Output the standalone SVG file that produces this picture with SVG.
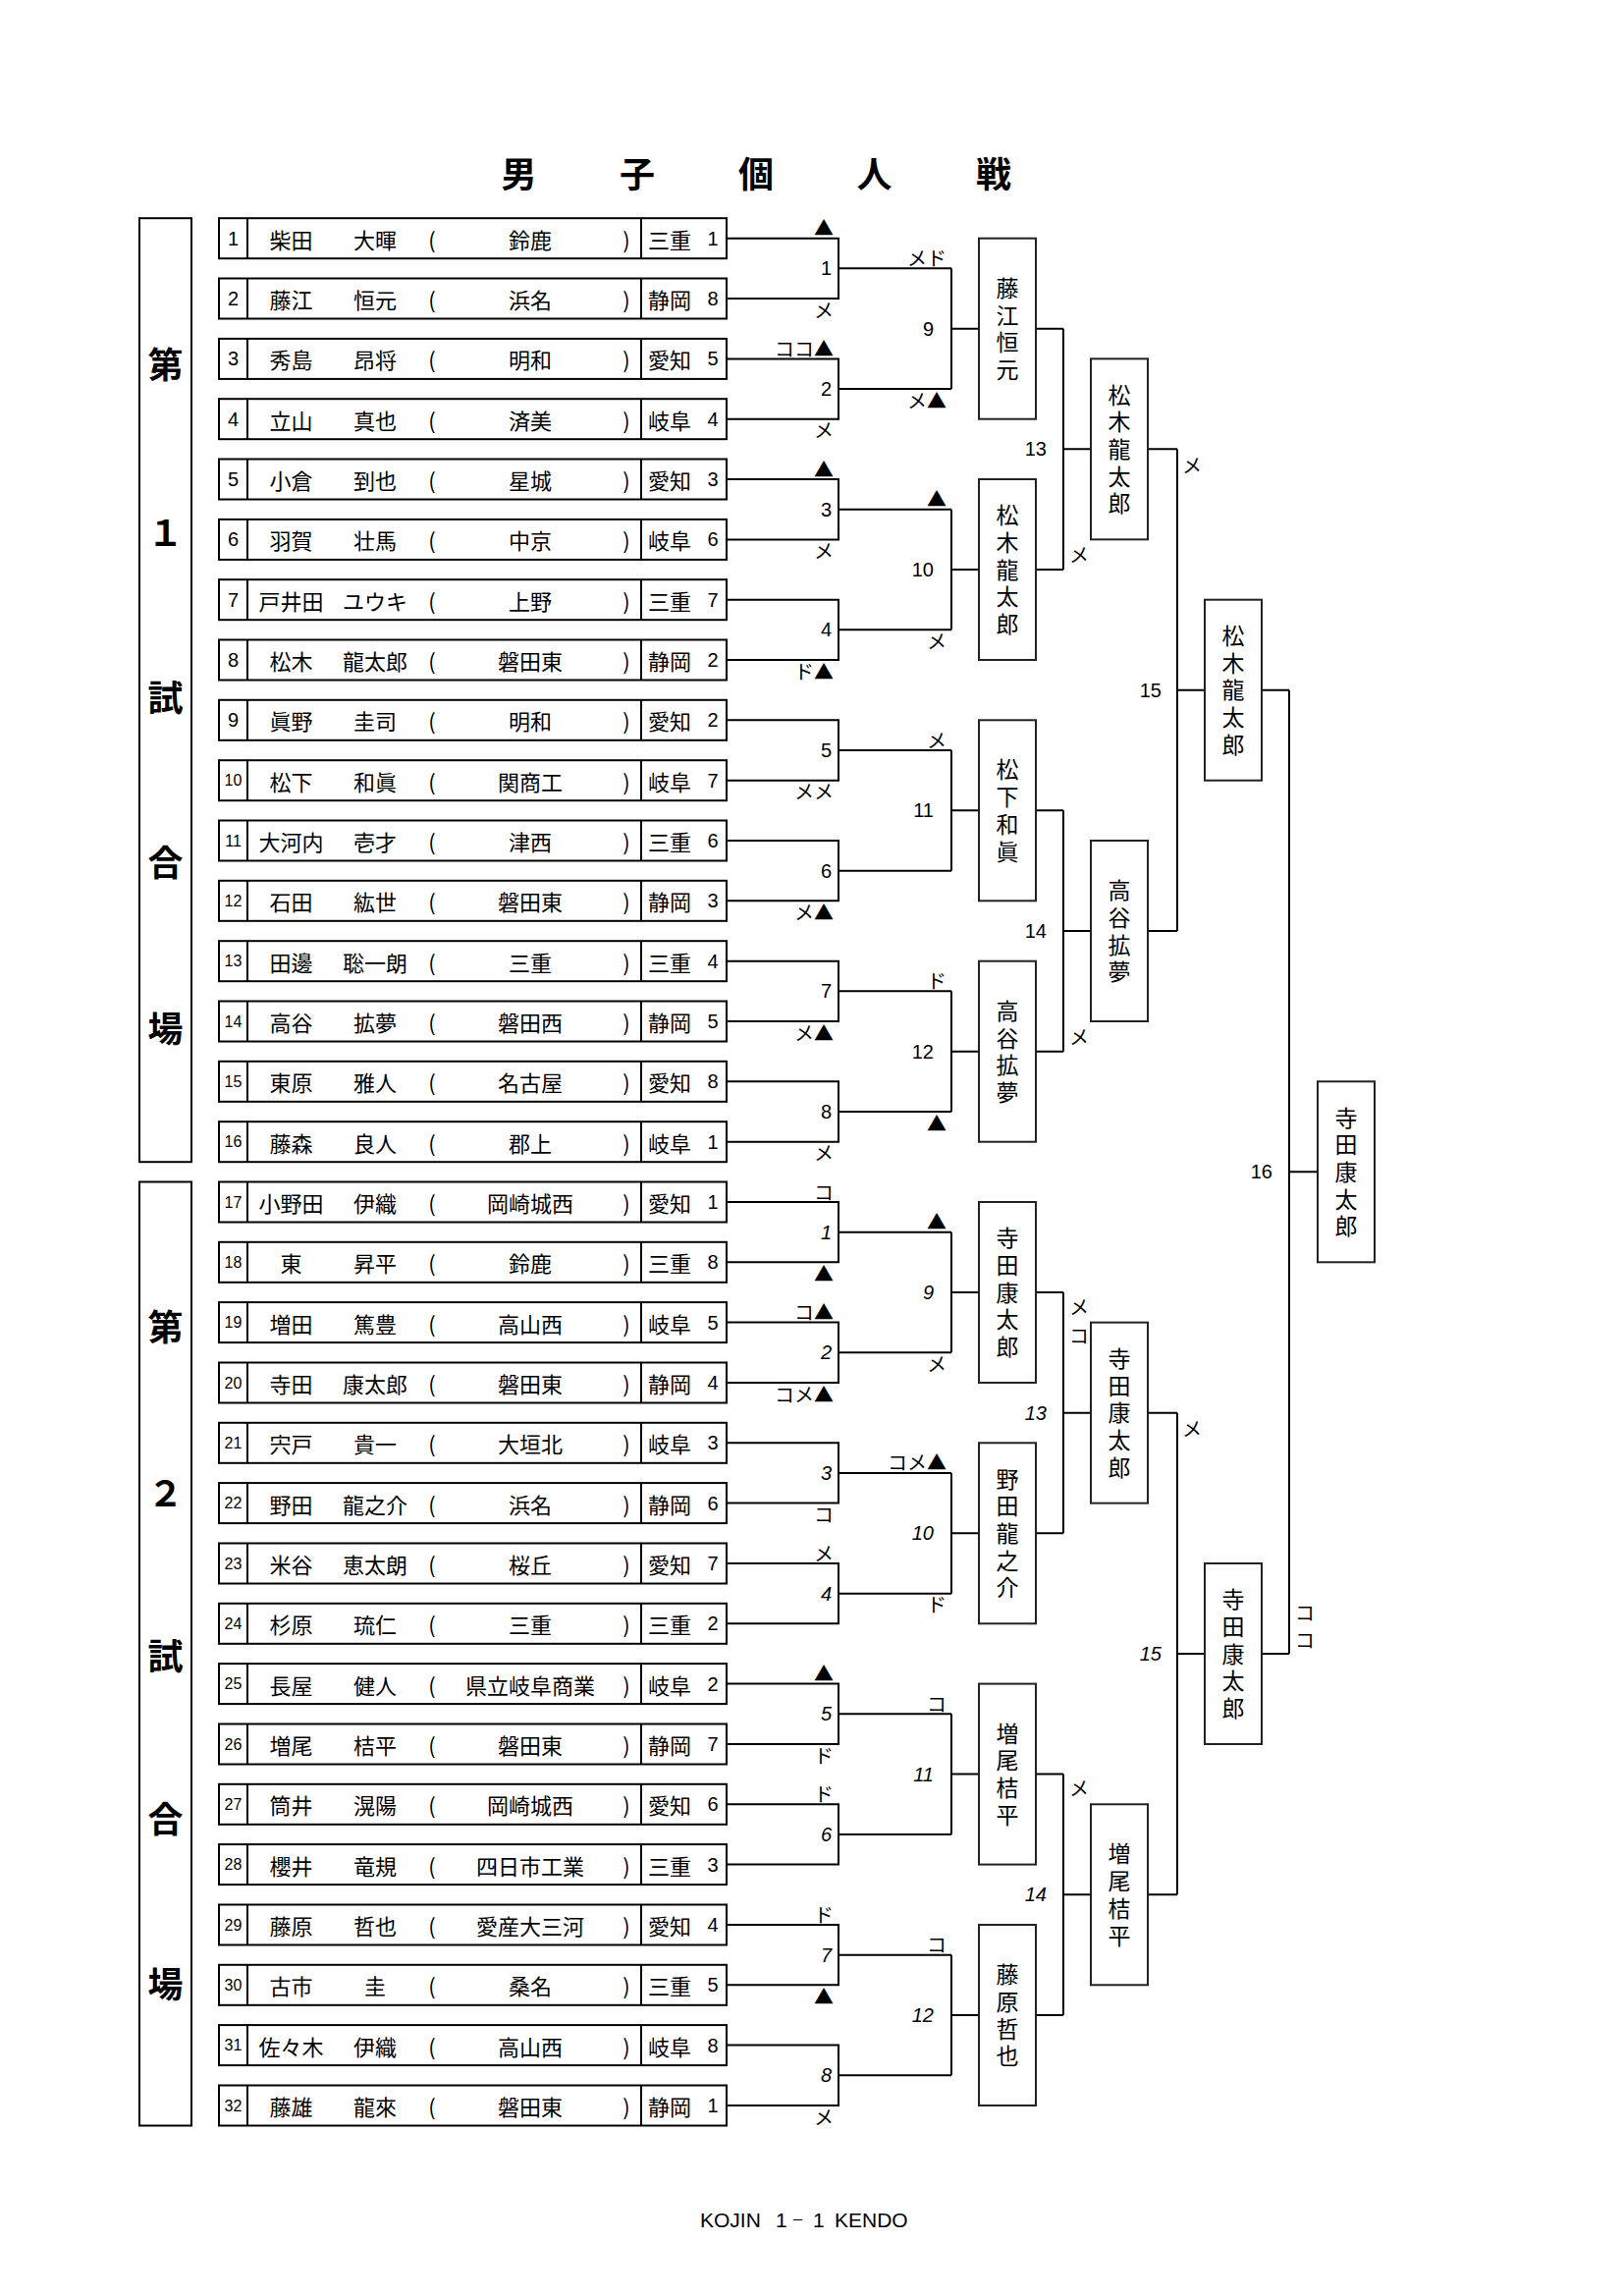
<svg xmlns="http://www.w3.org/2000/svg" width="1653" height="2338" viewBox="0 0 1653 2338">
<style>
.bx{fill:none;stroke:#000;stroke-width:2}
.wb{fill:none;stroke:#222;stroke-width:2}
.cn{fill:none;stroke:#000;stroke-width:2}
.j{font-family:"Noto Sans CJK JP","Noto Sans CJK SC",sans-serif;font-size:22px;text-anchor:middle;dominant-baseline:central;fill:#000}
.d{font-family:"Liberation Sans",Arial,sans-serif;font-size:20px;text-anchor:middle;dominant-baseline:central;fill:#000}
.d2{font-size:16px}
.lb{font-family:"Liberation Sans",Arial,sans-serif;font-size:20px;text-anchor:end;dominant-baseline:central;fill:#000}
.it{font-style:italic}
.mk{font-family:"Noto Sans CJK JP",sans-serif;font-size:20px;text-anchor:end;dominant-baseline:central;fill:#000}
.ms{text-anchor:start}
.wv{font-family:"Noto Sans CJK JP",sans-serif;font-size:23px;writing-mode:vertical-rl;text-anchor:middle;letter-spacing:4.7px;fill:#000}
.v{font-family:"Noto Sans CJK JP",sans-serif;font-size:36px;font-weight:bold;text-anchor:middle;dominant-baseline:central;fill:#000}
.ft{font-family:"Liberation Sans","Noto Sans CJK JP",sans-serif;font-size:21px;dominant-baseline:central;fill:#000}
</style>
<defs>
<g id="rf"><rect class="bx" x="223" y="-20.5" width="517" height="41"/><path class="bx" d="M252 -20.5V20.5M653 -20.5V20.5"/><text class="j" x="440">(</text><text class="j" x="638">)</text></g>
</defs>
<rect width="1653" height="2338" fill="#fff"/>
<g id="title"><text class="v"><tspan x="528.5" y="175">男</tspan><tspan x="649" y="175">子</tspan><tspan x="770" y="175">個</tspan><tspan x="890.5" y="175">人</tspan><tspan x="1012" y="175">戦</tspan></text></g>
<g id="venue1"><rect class="bx" x="142" y="222.2" width="53" height="961"/><text class="v"><tspan x="168.5" y="369">第</tspan><tspan x="168.5" y="540">１</tspan><tspan x="168.5" y="708">試</tspan><tspan x="168.5" y="876">合</tspan><tspan x="168.5" y="1045">場</tspan></text></g>
<g id="venue2"><rect class="bx" x="142" y="1203.5" width="53" height="961"/><text class="v"><tspan x="168.5" y="1349">第</tspan><tspan x="168.5" y="1518">２</tspan><tspan x="168.5" y="1684">試</tspan><tspan x="168.5" y="1850">合</tspan><tspan x="168.5" y="2018">場</tspan></text></g>
<g id="players">
<g id="r1" transform="translate(0,242.7)"><use href="#rf"/><text class="d" x="237.5">1</text><text class="j" x="296.5">柴田</text><text class="j" x="382">大暉</text><text class="j" x="540">鈴鹿</text><text class="j" x="682">三重</text><text class="d" x="726">1</text></g>
<g id="r2" transform="translate(0,304)"><use href="#rf"/><text class="d" x="237.5">2</text><text class="j" x="296.5">藤江</text><text class="j" x="382">恒元</text><text class="j" x="540">浜名</text><text class="j" x="682">静岡</text><text class="d" x="726">8</text></g>
<g id="r3" transform="translate(0,365.4)"><use href="#rf"/><text class="d" x="237.5">3</text><text class="j" x="296.5">秀島</text><text class="j" x="382">昂将</text><text class="j" x="540">明和</text><text class="j" x="682">愛知</text><text class="d" x="726">5</text></g>
<g id="r4" transform="translate(0,426.7)"><use href="#rf"/><text class="d" x="237.5">4</text><text class="j" x="296.5">立山</text><text class="j" x="382">真也</text><text class="j" x="540">済美</text><text class="j" x="682">岐阜</text><text class="d" x="726">4</text></g>
<g id="r5" transform="translate(0,488)"><use href="#rf"/><text class="d" x="237.5">5</text><text class="j" x="296.5">小倉</text><text class="j" x="382">到也</text><text class="j" x="540">星城</text><text class="j" x="682">愛知</text><text class="d" x="726">3</text></g>
<g id="r6" transform="translate(0,549.4)"><use href="#rf"/><text class="d" x="237.5">6</text><text class="j" x="296.5">羽賀</text><text class="j" x="382">壮馬</text><text class="j" x="540">中京</text><text class="j" x="682">岐阜</text><text class="d" x="726">6</text></g>
<g id="r7" transform="translate(0,610.7)"><use href="#rf"/><text class="d" x="237.5">7</text><text class="j" x="296.5">戸井田</text><text class="j" x="382">ユウキ</text><text class="j" x="540">上野</text><text class="j" x="682">三重</text><text class="d" x="726">7</text></g>
<g id="r8" transform="translate(0,672)"><use href="#rf"/><text class="d" x="237.5">8</text><text class="j" x="296.5">松木</text><text class="j" x="382">龍太郎</text><text class="j" x="540">磐田東</text><text class="j" x="682">静岡</text><text class="d" x="726">2</text></g>
<g id="r9" transform="translate(0,733.3)"><use href="#rf"/><text class="d" x="237.5">9</text><text class="j" x="296.5">眞野</text><text class="j" x="382">圭司</text><text class="j" x="540">明和</text><text class="j" x="682">愛知</text><text class="d" x="726">2</text></g>
<g id="r10" transform="translate(0,794.7)"><use href="#rf"/><text class="d d2" x="237.5">10</text><text class="j" x="296.5">松下</text><text class="j" x="382">和眞</text><text class="j" x="540">関商工</text><text class="j" x="682">岐阜</text><text class="d" x="726">7</text></g>
<g id="r11" transform="translate(0,856)"><use href="#rf"/><text class="d d2" x="237.5">11</text><text class="j" x="296.5">大河内</text><text class="j" x="382">壱才</text><text class="j" x="540">津西</text><text class="j" x="682">三重</text><text class="d" x="726">6</text></g>
<g id="r12" transform="translate(0,917.3)"><use href="#rf"/><text class="d d2" x="237.5">12</text><text class="j" x="296.5">石田</text><text class="j" x="382">紘世</text><text class="j" x="540">磐田東</text><text class="j" x="682">静岡</text><text class="d" x="726">3</text></g>
<g id="r13" transform="translate(0,978.7)"><use href="#rf"/><text class="d d2" x="237.5">13</text><text class="j" x="296.5">田邊</text><text class="j" x="382">聡一朗</text><text class="j" x="540">三重</text><text class="j" x="682">三重</text><text class="d" x="726">4</text></g>
<g id="r14" transform="translate(0,1040)"><use href="#rf"/><text class="d d2" x="237.5">14</text><text class="j" x="296.5">高谷</text><text class="j" x="382">拡夢</text><text class="j" x="540">磐田西</text><text class="j" x="682">静岡</text><text class="d" x="726">5</text></g>
<g id="r15" transform="translate(0,1101.3)"><use href="#rf"/><text class="d d2" x="237.5">15</text><text class="j" x="296.5">東原</text><text class="j" x="382">雅人</text><text class="j" x="540">名古屋</text><text class="j" x="682">愛知</text><text class="d" x="726">8</text></g>
<g id="r16" transform="translate(0,1162.7)"><use href="#rf"/><text class="d d2" x="237.5">16</text><text class="j" x="296.5">藤森</text><text class="j" x="382">良人</text><text class="j" x="540">郡上</text><text class="j" x="682">岐阜</text><text class="d" x="726">1</text></g>
<g id="r17" transform="translate(0,1224)"><use href="#rf"/><text class="d d2" x="237.5">17</text><text class="j" x="296.5">小野田</text><text class="j" x="382">伊織</text><text class="j" x="540">岡崎城西</text><text class="j" x="682">愛知</text><text class="d" x="726">1</text></g>
<g id="r18" transform="translate(0,1285.3)"><use href="#rf"/><text class="d d2" x="237.5">18</text><text class="j" x="296.5">東</text><text class="j" x="382">昇平</text><text class="j" x="540">鈴鹿</text><text class="j" x="682">三重</text><text class="d" x="726">8</text></g>
<g id="r19" transform="translate(0,1346.6)"><use href="#rf"/><text class="d d2" x="237.5">19</text><text class="j" x="296.5">増田</text><text class="j" x="382">篤豊</text><text class="j" x="540">高山西</text><text class="j" x="682">岐阜</text><text class="d" x="726">5</text></g>
<g id="r20" transform="translate(0,1408)"><use href="#rf"/><text class="d d2" x="237.5">20</text><text class="j" x="296.5">寺田</text><text class="j" x="382">康太郎</text><text class="j" x="540">磐田東</text><text class="j" x="682">静岡</text><text class="d" x="726">4</text></g>
<g id="r21" transform="translate(0,1469.3)"><use href="#rf"/><text class="d d2" x="237.5">21</text><text class="j" x="296.5">宍戸</text><text class="j" x="382">貴一</text><text class="j" x="540">大垣北</text><text class="j" x="682">岐阜</text><text class="d" x="726">3</text></g>
<g id="r22" transform="translate(0,1530.6)"><use href="#rf"/><text class="d d2" x="237.5">22</text><text class="j" x="296.5">野田</text><text class="j" x="382">龍之介</text><text class="j" x="540">浜名</text><text class="j" x="682">静岡</text><text class="d" x="726">6</text></g>
<g id="r23" transform="translate(0,1592)"><use href="#rf"/><text class="d d2" x="237.5">23</text><text class="j" x="296.5">米谷</text><text class="j" x="382">恵太朗</text><text class="j" x="540">桜丘</text><text class="j" x="682">愛知</text><text class="d" x="726">7</text></g>
<g id="r24" transform="translate(0,1653.3)"><use href="#rf"/><text class="d d2" x="237.5">24</text><text class="j" x="296.5">杉原</text><text class="j" x="382">琉仁</text><text class="j" x="540">三重</text><text class="j" x="682">三重</text><text class="d" x="726">2</text></g>
<g id="r25" transform="translate(0,1714.6)"><use href="#rf"/><text class="d d2" x="237.5">25</text><text class="j" x="296.5">長屋</text><text class="j" x="382">健人</text><text class="j" x="540">県立岐阜商業</text><text class="j" x="682">岐阜</text><text class="d" x="726">2</text></g>
<g id="r26" transform="translate(0,1776)"><use href="#rf"/><text class="d d2" x="237.5">26</text><text class="j" x="296.5">増尾</text><text class="j" x="382">桔平</text><text class="j" x="540">磐田東</text><text class="j" x="682">静岡</text><text class="d" x="726">7</text></g>
<g id="r27" transform="translate(0,1837.3)"><use href="#rf"/><text class="d d2" x="237.5">27</text><text class="j" x="296.5">筒井</text><text class="j" x="382">滉陽</text><text class="j" x="540">岡崎城西</text><text class="j" x="682">愛知</text><text class="d" x="726">6</text></g>
<g id="r28" transform="translate(0,1898.6)"><use href="#rf"/><text class="d d2" x="237.5">28</text><text class="j" x="296.5">櫻井</text><text class="j" x="382">竜規</text><text class="j" x="540">四日市工業</text><text class="j" x="682">三重</text><text class="d" x="726">3</text></g>
<g id="r29" transform="translate(0,1960)"><use href="#rf"/><text class="d d2" x="237.5">29</text><text class="j" x="296.5">藤原</text><text class="j" x="382">哲也</text><text class="j" x="540">愛産大三河</text><text class="j" x="682">愛知</text><text class="d" x="726">4</text></g>
<g id="r30" transform="translate(0,2021.3)"><use href="#rf"/><text class="d d2" x="237.5">30</text><text class="j" x="296.5">古市</text><text class="j" x="382">圭</text><text class="j" x="540">桑名</text><text class="j" x="682">三重</text><text class="d" x="726">5</text></g>
<g id="r31" transform="translate(0,2082.6)"><use href="#rf"/><text class="d d2" x="237.5">31</text><text class="j" x="296.5">佐々木</text><text class="j" x="382">伊織</text><text class="j" x="540">高山西</text><text class="j" x="682">岐阜</text><text class="d" x="726">8</text></g>
<g id="r32" transform="translate(0,2144)"><use href="#rf"/><text class="d d2" x="237.5">32</text><text class="j" x="296.5">藤雄</text><text class="j" x="382">龍來</text><text class="j" x="540">磐田東</text><text class="j" x="682">静岡</text><text class="d" x="726">1</text></g>
</g>
<g id="connectors" class="cn">
<path d="M740 242.7H854V304H740M854 273.35H969M740 365.4H854V426.7H740M854 396.05H969M740 488H854V549.4H740M854 518.7H969M740 610.7H854V672H740M854 641.35H969M740 733.3H854V794.7H740M854 764H969M740 856H854V917.3H740M854 886.65H969M740 978.7H854V1040H740M854 1009.35H969M740 1101.3H854V1162.7H740M854 1132H969"/>
<path d="M740 1224H854V1285.3H740M854 1254.65H969M740 1346.6H854V1408H740M854 1377.3H969M740 1469.3H854V1530.6H740M854 1499.95H969M740 1592H854V1653.3H740M854 1622.65H969M740 1714.6H854V1776H740M854 1745.3H969M740 1837.3H854V1898.6H740M854 1867.95H969M740 1960H854V2021.3H740M854 1990.65H969M740 2082.6H854V2144H740M854 2113.3H969"/>
<path d="M969 273.35V396.05M969 334.7H997M1055 334.7H1083M969 518.7V641.35M969 580H997M1055 580H1083M969 764V886.65M969 825.3H997M1055 825.3H1083M969 1009.35V1132M969 1070.7H997M1055 1070.7H1083M969 1254.65V1377.3M969 1316H997M1055 1316H1083M969 1499.95V1622.65M969 1561.3H997M1055 1561.3H1083M969 1745.3V1867.95M969 1806.6H997M1055 1806.6H1083M969 1990.65V2113.3M969 2052H997M1055 2052H1083"/>
<path d="M1083 334.7V580M1083 457.35H1111M1169 457.35H1199M1083 825.3V1070.7M1083 948H1111M1169 948H1199M1083 1316V1561.3M1083 1438.65H1111M1169 1438.65H1199M1083 1806.6V2052M1083 1929.3H1111M1169 1929.3H1199"/>
<path d="M1199 457.35V948M1199 702.7H1227M1285 702.7H1313M1199 1438.65V1929.3M1199 1684H1227M1285 1684H1313M1313 702.7V1684M1313 1193.3H1342"/>
</g>
<g id="labels">
<text class="lb" x="847" y="273.35">1</text><text class="lb" x="847" y="396.05">2</text><text class="lb" x="847" y="518.7">3</text><text class="lb" x="847" y="641.35">4</text><text class="lb" x="847" y="764">5</text><text class="lb" x="847" y="886.65">6</text><text class="lb" x="847" y="1009.35">7</text><text class="lb" x="847" y="1132">8</text>
<text class="lb it" x="847" y="1254.65">1</text><text class="lb it" x="847" y="1377.3">2</text><text class="lb it" x="847" y="1499.95">3</text><text class="lb it" x="847" y="1622.65">4</text><text class="lb it" x="847" y="1745.3">5</text><text class="lb it" x="847" y="1867.95">6</text><text class="lb it" x="847" y="1990.65">7</text><text class="lb it" x="847" y="2113.3">8</text>
<text class="lb" x="951" y="334.7">9</text><text class="lb" x="951" y="580">10</text><text class="lb" x="951" y="825.3">11</text><text class="lb" x="951" y="1070.7">12</text>
<text class="lb it" x="951" y="1316">9</text><text class="lb it" x="951" y="1561.3">10</text><text class="lb it" x="951" y="1806.6">11</text><text class="lb it" x="951" y="2052">12</text>
<text class="lb" x="1066" y="457.35">13</text><text class="lb" x="1066" y="948">14</text><text class="lb it" x="1066" y="1438.65">13</text><text class="lb it" x="1066" y="1929.3">14</text>
<text class="lb" x="1183" y="702.7">15</text><text class="lb it" x="1183" y="1684">15</text>
<text class="lb" x="1296" y="1193.3">16</text>
</g>
<g id="marks">
<text class="mk" x="849" y="231.7">▲</text><text class="mk" x="849" y="315">メ</text><text class="mk" x="849" y="354.4">ココ▲</text><text class="mk" x="849" y="437.7">メ</text><text class="mk" x="849" y="477">▲</text><text class="mk" x="849" y="560.4">メ</text><text class="mk" x="849" y="683">ド▲</text><text class="mk" x="849" y="805.7">メメ</text><text class="mk" x="849" y="928.3">メ▲</text><text class="mk" x="849" y="1051">メ▲</text><text class="mk" x="849" y="1173.7">メ</text>
<text class="mk" x="849" y="1213">コ</text><text class="mk" x="849" y="1296.3">▲</text><text class="mk" x="849" y="1335.6">コ▲</text><text class="mk" x="849" y="1419">コメ▲</text><text class="mk" x="849" y="1541.6">コ</text><text class="mk" x="849" y="1581">メ</text><text class="mk" x="849" y="1703.6">▲</text><text class="mk" x="849" y="1787">ド</text><text class="mk" x="849" y="1826.3">ド</text><text class="mk" x="849" y="1949">ド</text><text class="mk" x="849" y="2032.3">▲</text><text class="mk" x="849" y="2155">メ</text>
<text class="mk" x="964" y="262.35">メド</text><text class="mk" x="964" y="407.05">メ▲</text><text class="mk" x="964" y="507.7">▲</text><text class="mk" x="964" y="652.35">メ</text><text class="mk" x="964" y="753">メ</text><text class="mk" x="964" y="998.35">ド</text><text class="mk" x="964" y="1143">▲</text>
<text class="mk" x="964" y="1243.65">▲</text><text class="mk" x="964" y="1388.3">メ</text><text class="mk" x="964" y="1488.95">コメ▲</text><text class="mk" x="964" y="1633.65">ド</text><text class="mk" x="964" y="1734.3">コ</text><text class="mk" x="964" y="1979.65">コ</text>
<text class="mk ms" x="1089" y="564">メ</text><text class="mk ms" x="1089" y="1055">メ</text><text class="mk ms" x="1089" y="1330">メ</text><text class="mk ms" x="1089" y="1359">コ</text><text class="mk ms" x="1089" y="1820.5">メ</text>
<text class="mk ms" x="1204" y="473.5">メ</text><text class="mk ms" x="1204" y="1454.5">メ</text>
<text class="mk ms" x="1319" y="1641">コ</text><text class="mk ms" x="1319" y="1669">コ</text>
</g>
<g id="w9" transform="translate(1026,334.7)"><rect class="wb" x="-29" y="-92" width="58" height="184"/><text class="wv" x="0" y="2.35">藤江恒元</text></g>
<g id="w10" transform="translate(1026,580)"><rect class="wb" x="-29" y="-92" width="58" height="184"/><text class="wv" x="0" y="2.35">松木龍太郎</text></g>
<g id="w11" transform="translate(1026,825.3)"><rect class="wb" x="-29" y="-92" width="58" height="184"/><text class="wv" x="0" y="2.35">松下和眞</text></g>
<g id="w12" transform="translate(1026,1070.7)"><rect class="wb" x="-29" y="-92" width="58" height="184"/><text class="wv" x="0" y="2.35">高谷拡夢</text></g>
<g id="w13" transform="translate(1140,457.35)"><rect class="wb" x="-29" y="-92" width="58" height="184"/><text class="wv" x="0" y="2.35">松木龍太郎</text></g>
<g id="w14" transform="translate(1140,948)"><rect class="wb" x="-29" y="-92" width="58" height="184"/><text class="wv" x="0" y="2.35">高谷拡夢</text></g>
<g id="w15" transform="translate(1256,702.7)"><rect class="wb" x="-29" y="-92" width="58" height="184"/><text class="wv" x="0" y="2.35">松木龍太郎</text></g>
<g id="w2-9" transform="translate(1026,1316)"><rect class="wb" x="-29" y="-92" width="58" height="184"/><text class="wv" x="0" y="2.35">寺田康太郎</text></g>
<g id="w2-10" transform="translate(1026,1561.3)"><rect class="wb" x="-29" y="-92" width="58" height="184"/><text class="wv" x="0" y="2.35">野田龍之介</text></g>
<g id="w2-11" transform="translate(1026,1806.6)"><rect class="wb" x="-29" y="-92" width="58" height="184"/><text class="wv" x="0" y="2.35">増尾桔平</text></g>
<g id="w2-12" transform="translate(1026,2052)"><rect class="wb" x="-29" y="-92" width="58" height="184"/><text class="wv" x="0" y="2.35">藤原哲也</text></g>
<g id="w2-13" transform="translate(1140,1438.65)"><rect class="wb" x="-29" y="-92" width="58" height="184"/><text class="wv" x="0" y="2.35">寺田康太郎</text></g>
<g id="w2-14" transform="translate(1140,1929.3)"><rect class="wb" x="-29" y="-92" width="58" height="184"/><text class="wv" x="0" y="2.35">増尾桔平</text></g>
<g id="w2-15" transform="translate(1256,1684)"><rect class="wb" x="-29" y="-92" width="58" height="184"/><text class="wv" x="0" y="2.35">寺田康太郎</text></g>
<g id="w16" transform="translate(1371,1193.3)"><rect class="wb" x="-29" y="-92" width="58" height="184"/><text class="wv" x="0" y="2.35">寺田康太郎</text></g>
<g id="footer"><text class="ft" y="2259.5"><tspan x="713">KOJIN </tspan><tspan x="790">1</tspan><tspan x="806" style="font-size:13px">－</tspan><tspan x="828">1 </tspan><tspan x="850">KENDO</tspan></text></g>
</svg>
